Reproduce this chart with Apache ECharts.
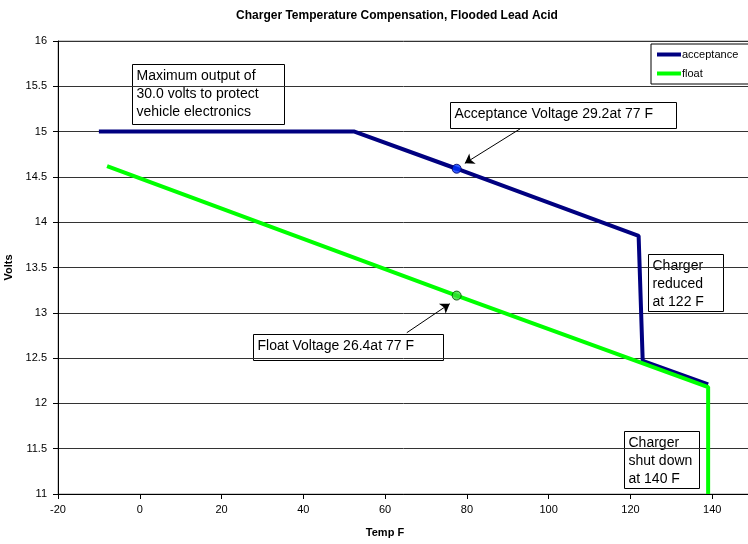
<!DOCTYPE html>
<html><head><meta charset="utf-8">
<script src="https://cdn.jsdelivr.net/npm/echarts@6/dist/echarts.min.js"></script>
<style>html,body{margin:0;padding:0;background:#fff}#c{width:748px;height:544px}</style>
</head><body><div id="c"></div>
<script>
var titleText = 'Charger Temperature Compensation, Flooded Lead Acid';
var acceptance = [[-10, 15], [52.5, 15], [77.5, 14.59], [122, 13.85], [123, 12.47], [139, 12.21]];
var floatV = [[-8, 14.62], [77.5, 13.19], [139, 12.18], [139, 11]];
var acceptanceDot = [[77.5, 14.59]];
var floatDot = [[77.5, 13.19]];
var acceptanceArrow = [[93, 15.03], [79.5, 14.65]];
var floatArrow = [[65.3, 12.78], [75.8, 13.1]];
var notes = [
  {text: 'Maximum output of\n30.0 volts to protect\nvehicle electronics', x: 132, y: 64, w: 152, h: 60},
  {text: 'Acceptance Voltage 29.2at 77 F', x: 450, y: 102, w: 226, h: 26},
  {text: 'Charger\nreduced\nat 122 F', x: 648, y: 254, w: 75, h: 57},
  {text: 'Float Voltage 26.4at 77 F', x: 253, y: 334, w: 190, h: 26},
  {text: 'Charger\nshut down\nat 140 F', x: 624, y: 431, w: 75, h: 57}
];
var FONT = 'Liberation Sans, Arial, sans-serif';
var chart = echarts.init(document.getElementById('c'));
var graphics = notes.map(function (n) {
  return {
    type: 'group', left: n.x, top: n.y, z: 20,
    children: [
      {type: 'rect', shape: {x: 0, y: 0, width: n.w, height: n.h}, style: {fill: '#fff', stroke: '#000', lineWidth: 1}},
      {type: 'text', x: 4, y: 3, style: {text: n.text, font: '14px ' + FONT, fill: '#000', lineHeight: 18}}
    ]
  };
});
chart.setOption({
  animation: false,
  backgroundColor: '#fff',
  title: {text: titleText, left: 392, top: 5, textAlign: 'center',
    textStyle: {fontSize: 12, fontWeight: 'bold', fontFamily: FONT, color: '#000'}},
  legend: {
    data: ['acceptance', 'float'], orient: 'vertical', left: 651, top: 44,
    backgroundColor: '#fff', borderColor: '#000', borderWidth: 1,
    padding: [5, 30, 5, 6], itemGap: 8, itemWidth: 24, itemHeight: 4, icon: 'rect',
    textStyle: {fontSize: 11, fontFamily: FONT, color: '#000', padding: [0, 0, 0, -4]}
  },
  grid: {left: 58, top: 41, right: -46, bottom: 50, outerBoundsMode: 'none', containLabel: false,
    show: true, borderColor: '#999', borderWidth: 1},
  xAxis: {
    type: 'value', min: -20, max: 160, interval: 20,
    name: 'Temp F', nameLocation: 'middle', nameGap: 33,
    nameTextStyle: {fontSize: 11, fontWeight: 'bold', fontFamily: FONT, color: '#000', padding: [0, 82, 0, 0]},
    axisLine: {onZero: false, lineStyle: {color: '#000'}},
    axisTick: {show: true, lineStyle: {color: '#000'}, length: 5},
    axisLabel: {fontSize: 11, fontFamily: FONT, color: '#000', margin: 10},
    splitLine: {show: false}
  },
  yAxis: {
    type: 'value', min: 11, max: 16, interval: 0.5,
    name: 'Volts', nameLocation: 'middle', nameGap: 41, nameRotate: 90,
    nameTextStyle: {fontSize: 11, fontWeight: 'bold', fontFamily: FONT, color: '#000'},
    axisLine: {show: true, onZero: false, lineStyle: {color: '#000'}},
    axisTick: {show: true, lineStyle: {color: '#000'}, length: 5},
    axisLabel: {fontSize: 11, fontFamily: FONT, color: '#000', margin: 11},
    splitLine: {show: true, lineStyle: {color: '#333', width: 1}}
  },
  graphic: graphics,
  series: [
    {name: 'acceptance', type: 'line', data: acceptance, symbol: 'none', z: 3,
      lineStyle: {color: '#000080', width: 4}, itemStyle: {color: '#000080'}},
    {name: 'float', type: 'line', data: floatV, symbol: 'none', z: 4,
      lineStyle: {color: '#00ff00', width: 4}, itemStyle: {color: '#00ff00'}},
    {name: 'accDot', type: 'scatter', data: acceptanceDot, symbolSize: 9, z: 6,
      itemStyle: {color: '#0033ff', borderColor: '#000060', borderWidth: 1},
      markLine: {silent: true, symbol: ['none', 'arrow'], symbolSize: 9, label: {show: false},
        lineStyle: {color: '#000', width: 1, type: 'solid'},
        data: [[{coord: acceptanceArrow[0]}, {coord: acceptanceArrow[1]}]]}},
    {name: 'floatDot', type: 'scatter', data: floatDot, symbolSize: 9, z: 6,
      itemStyle: {color: '#33dd33', borderColor: '#004400', borderWidth: 1},
      markLine: {silent: true, symbol: ['none', 'arrow'], symbolSize: 9, label: {show: false},
        lineStyle: {color: '#000', width: 1, type: 'solid'},
        data: [[{coord: floatArrow[0]}, {coord: floatArrow[1]}]]}}
  ]
});
</script></body></html>
